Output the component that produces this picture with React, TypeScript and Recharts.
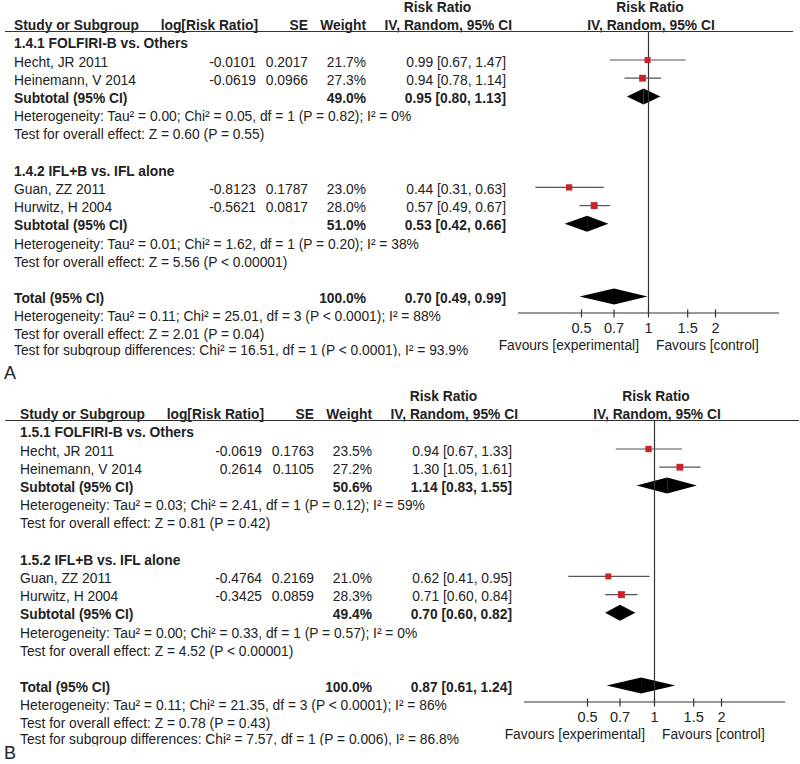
import React from "react";
import {
  ComposedChart,
  XAxis,
  YAxis,
  Scatter,
  ReferenceLine,
  ReferenceArea,
} from "recharts";

const FONT = '"Liberation Sans", Arial, sans-serif';
const INK = "#222";

// shared row layout (table rows, 0 = first subgroup heading)
const subgroupRows = [0, 7];
const studyRows = [1, 2, 8, 9];
const pooledRows = [3, 10, 14];
const noteRows = [4, 5, 11, 12, 15, 15.95, 16.85];
const pooledLabels = ["Subtotal (95% CI)", "Subtotal (95% CI)", "Total (95% CI)"];
const studyNames = ["Hecht, JR 2011", "Heinemann, V 2014", "Guan, ZZ 2011", "Hurwitz, H 2004"];
const axisTicks = [0.5, 0.7, 1, 1.5, 2];

// panel A
const subgroupsA = ["1.4.1 FOLFIRI-B vs. Others", "1.4.2 IFL+B vs. IFL alone"];
const logRrA = ["-0.0101", "-0.0619", "-0.8123", "-0.5621"];
const seA = ["0.2017", "0.0966", "0.1787", "0.0817"];
const weightA = [21.7, 27.3, 23.0, 28.0];
const rrA = [0.99, 0.94, 0.44, 0.57];
const loA = [0.67, 0.78, 0.31, 0.49];
const hiA = [1.47, 1.14, 0.63, 0.67];
const pooledWeightA = [49.0, 51.0, 100.0];
const pooledRrA = [0.95, 0.53, 0.7];
const pooledLoA = [0.8, 0.42, 0.49];
const pooledHiA = [1.13, 0.66, 0.99];
const notesA = [
  "Heterogeneity: Tau² = 0.00; Chi² = 0.05, df = 1 (P = 0.82); I² = 0%",
  "Test for overall effect: Z = 0.60 (P = 0.55)",
  "Heterogeneity: Tau² = 0.01; Chi² = 1.62, df = 1 (P = 0.20); I² = 38%",
  "Test for overall effect: Z = 5.56 (P < 0.00001)",
  "Heterogeneity: Tau² = 0.11; Chi² = 25.01, df = 3 (P < 0.0001); I² = 88%",
  "Test for overall effect: Z = 2.01 (P = 0.04)",
  "Test for subgroup differences: Chi² = 16.51, df = 1 (P < 0.0001), I² = 93.9%",
];

// panel B
const subgroupsB = ["1.5.1 FOLFIRI-B vs. Others", "1.5.2 IFL+B vs. IFL alone"];
const logRrB = ["-0.0619", "0.2614", "-0.4764", "-0.3425"];
const seB = ["0.1763", "0.1105", "0.2169", "0.0859"];
const weightB = [23.5, 27.2, 21.0, 28.3];
const rrB = [0.94, 1.3, 0.62, 0.71];
const loB = [0.67, 1.05, 0.41, 0.6];
const hiB = [1.33, 1.61, 0.95, 0.84];
const pooledWeightB = [50.6, 49.4, 100.0];
const pooledRrB = [1.14, 0.7, 0.87];
const pooledLoB = [0.83, 0.6, 0.61];
const pooledHiB = [1.55, 0.82, 1.24];
const notesB = [
  "Heterogeneity: Tau² = 0.03; Chi² = 2.41, df = 1 (P = 0.12); I² = 59%",
  "Test for overall effect: Z = 0.81 (P = 0.42)",
  "Heterogeneity: Tau² = 0.00; Chi² = 0.33, df = 1 (P = 0.57); I² = 0%",
  "Test for overall effect: Z = 4.52 (P < 0.00001)",
  "Heterogeneity: Tau² = 0.11; Chi² = 21.35, df = 3 (P < 0.0001); I² = 86%",
  "Test for overall effect: Z = 0.78 (P = 0.43)",
  "Test for subgroup differences: Chi² = 7.57, df = 1 (P = 0.006), I² = 86.8%",
];

const ROW_H = 18.2;
const ROW0 = 41.8; // y of row 0 inside a panel
const PLOT_TOP = 32;
const PLOT_BOTTOM = 313;
const CHART_H = 389;
const LOG_HALF = 1.35;

const f2 = (v: number) => v.toFixed(2);
const ciText = (rr: number, lo: number, hi: number) => `${f2(rr)} [${f2(lo)}, ${f2(hi)}]`;
const rowY = (r: number) => ROW0 + ROW_H * r;

function AxisTick(props: any) {
  const { x, y, payload } = props;
  return (
    <g>
      <line x1={x} x2={x} y1={y - 3.5} y2={y + 4.5} stroke="#333" strokeWidth={1.2} />
      <text x={x} y={y + 20} textAnchor="middle" fontSize={14.5} fill={INK} fontFamily={FONT}>
        {payload.value}
      </text>
    </g>
  );
}

function StudySquare(props: any) {
  const { cx, cy, payload } = props;
  const s = 1.3 * Math.sqrt(payload.weight);
  return <rect x={cx - s / 2} y={cy - s / 2} width={s} height={s} fill="#cc2229" />;
}

const leftHalf = (p: any) => (
  <polygon
    points={`${p.x},${p.y + p.height / 2} ${p.x + p.width},${p.y} ${p.x + p.width},${p.y + p.height}`}
    fill="#000"
  />
);
const rightHalf = (p: any) => (
  <polygon
    points={`${p.x},${p.y} ${p.x + p.width},${p.y + p.height / 2} ${p.x},${p.y + p.height}`}
    fill="#000"
  />
);

type PanelProps = {
  dx: number;
  height: number;
  letter: string;
  letterY: number;
  subgroups: string[];
  logRr: string[];
  se: string[];
  weight: number[];
  rr: number[];
  lo: number[];
  hi: number[];
  pooledWeight: number[];
  pooledRr: number[];
  pooledLo: number[];
  pooledHi: number[];
  notes: string[];
};

function Panel(p: PanelProps) {
  const studies = studyNames.map((name, i) => ({
    name,
    rr: p.rr[i],
    lo: p.lo[i],
    hi: p.hi[i],
    weight: p.weight[i],
    row: studyRows[i],
  }));
  const pooled = pooledLabels.map((name, i) => ({
    name,
    rr: p.pooledRr[i],
    lo: p.pooledLo[i],
    hi: p.pooledHi[i],
    row: pooledRows[i],
  }));

  const yMin = (PLOT_TOP - ROW0) / ROW_H;
  const yMax = yMin + (PLOT_BOTTOM - PLOT_TOP) / ROW_H;
  const dh = 8 / ROW_H; // diamond half height in rows

  const colLog = 256 + p.dx;
  const colSe = 308 + p.dx;
  const colW = 366 + p.dx;
  const colCi = 506 + p.dx;
  const left = 14 + p.dx;
  const mid = 649 + p.dx;
  const base = (r: number) => rowY(r) + 6.5;
  const t = { fontFamily: FONT, fontSize: 13.8, fill: INK };
  const clipId = `clip-${p.letter}`;
  const lastNote = p.notes.length - 1;

  return (
    <div style={{ position: "relative", width: 800, height: p.height, overflow: "hidden" }}>
      <ComposedChart
        width={800}
        height={CHART_H}
        margin={{ top: PLOT_TOP, left: 518 + p.dx, right: 21 - p.dx, bottom: CHART_H - PLOT_BOTTOM - 40 }}
      >
        <XAxis
          dataKey="rr"
          type="number"
          scale="log"
          domain={[Math.exp(-LOG_HALF), Math.exp(LOG_HALF)]}
          allowDataOverflow
          ticks={axisTicks}
          tick={AxisTick}
          tickLine={false}
          tickSize={0}
          tickMargin={0}
          height={40}
          axisLine={{ stroke: "#333", strokeWidth: 1.2 }}
        />
        <YAxis dataKey="row" type="number" domain={[yMin, yMax]} reversed hide width={0} allowDataOverflow />
        <ReferenceLine x={1} stroke="#333" strokeWidth={1.2} />
        {studies.map((s) => (
          <ReferenceLine
            key={`ci-${s.name}`}
            segment={[
              { x: s.lo, y: s.row },
              { x: s.hi, y: s.row },
            ]}
            stroke="#555"
            strokeWidth={1.2}
          />
        ))}
        {pooled.map((d) => (
          <ReferenceArea
            key={`l-${d.row}`}
            x1={d.lo}
            x2={d.rr}
            y1={d.row - dh}
            y2={d.row + dh}
            shape={leftHalf}
          />
        ))}
        {pooled.map((d) => (
          <ReferenceArea
            key={`r-${d.row}`}
            x1={d.rr}
            x2={d.hi}
            y1={d.row - dh}
            y2={d.row + dh}
            shape={rightHalf}
          />
        ))}
        <Scatter data={studies} shape={StudySquare} isAnimationActive={false} />
      </ComposedChart>

      <svg
        width={800}
        height={CHART_H}
        style={{ position: "absolute", left: 0, top: 0, pointerEvents: "none" }}
      >
        <defs>
          <clipPath id={clipId}>
            <rect x={0} y={0} width={800} height={base(noteRows[lastNote]) + 1.5} />
          </clipPath>
        </defs>
        {/* headers */}
        <text {...t} fontWeight="bold" x={437.5 + p.dx} y={12} textAnchor="middle">Risk Ratio</text>
        <text {...t} fontWeight="bold" x={mid + 1} y={12} textAnchor="middle">Risk Ratio</text>
        <text {...t} fontWeight="bold" x={left} y={29.5}>Study or Subgroup</text>
        <text {...t} fontWeight="bold" x={258 + p.dx} y={29.5} textAnchor="end">log[Risk Ratio]</text>
        <text {...t} fontWeight="bold" x={colSe} y={29.5} textAnchor="end">SE</text>
        <text {...t} fontWeight="bold" x={colW} y={29.5} textAnchor="end">Weight</text>
        <text {...t} fontWeight="bold" x={512 + p.dx} y={29.5} textAnchor="end">IV, Random, 95% CI</text>
        <text {...t} fontWeight="bold" x={mid + 2} y={29.5} textAnchor="middle">IV, Random, 95% CI</text>
        <line x1={5} x2={793 + p.dx} y1={31.5} y2={31.5} stroke="#333" strokeWidth={1.2} />

        {p.subgroups.map((g, i) => (
          <text key={g} {...t} fontWeight="bold" x={left} y={base(subgroupRows[i])}>{g}</text>
        ))}
        {studies.map((s, i) => (
          <g key={s.name}>
            <text {...t} x={left} y={base(s.row)}>{s.name}</text>
            <text {...t} x={colLog} y={base(s.row)} textAnchor="end">{p.logRr[i]}</text>
            <text {...t} x={colSe} y={base(s.row)} textAnchor="end">{p.se[i]}</text>
            <text {...t} x={colW} y={base(s.row)} textAnchor="end">{s.weight.toFixed(1)}%</text>
            <text {...t} x={colCi} y={base(s.row)} textAnchor="end">{ciText(s.rr, s.lo, s.hi)}</text>
          </g>
        ))}
        {pooled.map((d, i) => (
          <g key={`p-${d.row}`}>
            <text {...t} fontWeight="bold" x={left} y={base(d.row)}>{d.name}</text>
            <text {...t} fontWeight="bold" x={colW} y={base(d.row)} textAnchor="end">
              {p.pooledWeight[i].toFixed(1)}%
            </text>
            <text {...t} fontWeight="bold" x={colCi} y={base(d.row)} textAnchor="end">
              {ciText(d.rr, d.lo, d.hi)}
            </text>
          </g>
        ))}
        {p.notes.map((n, i) => (
          <text
            key={n}
            {...t}
            x={left}
            y={base(noteRows[i])}
            clipPath={i === lastNote ? `url(#${clipId})` : undefined}
          >
            {n}
          </text>
        ))}

        <text {...t} x={mid - 10} y={350} textAnchor="end">Favours [experimental]</text>
        <text {...t} x={mid + 7} y={350}>Favours [control]</text>
        <text fontFamily={FONT} fontSize={18} fill={INK} x={4} y={p.letterY}>{p.letter}</text>
      </svg>
    </div>
  );
}

export default function App() {
  return (
    <div style={{ position: "absolute", left: 0, top: 0, width: 800, height: 764, background: "#fff", overflow: "hidden" }}>
      <Panel
        dx={0}
        height={389}
        letter="A"
        letterY={379}
        subgroups={subgroupsA}
        logRr={logRrA}
        se={seA}
        weight={weightA}
        rr={rrA}
        lo={loA}
        hi={hiA}
        pooledWeight={pooledWeightA}
        pooledRr={pooledRrA}
        pooledLo={pooledLoA}
        pooledHi={pooledHiA}
        notes={notesA}
      />
      <Panel
        dx={6}
        height={375}
        letter="B"
        letterY={370}
        subgroups={subgroupsB}
        logRr={logRrB}
        se={seB}
        weight={weightB}
        rr={rrB}
        lo={loB}
        hi={hiB}
        pooledWeight={pooledWeightB}
        pooledRr={pooledRrB}
        pooledLo={pooledLoB}
        pooledHi={pooledHiB}
        notes={notesB}
      />
    </div>
  );
}
